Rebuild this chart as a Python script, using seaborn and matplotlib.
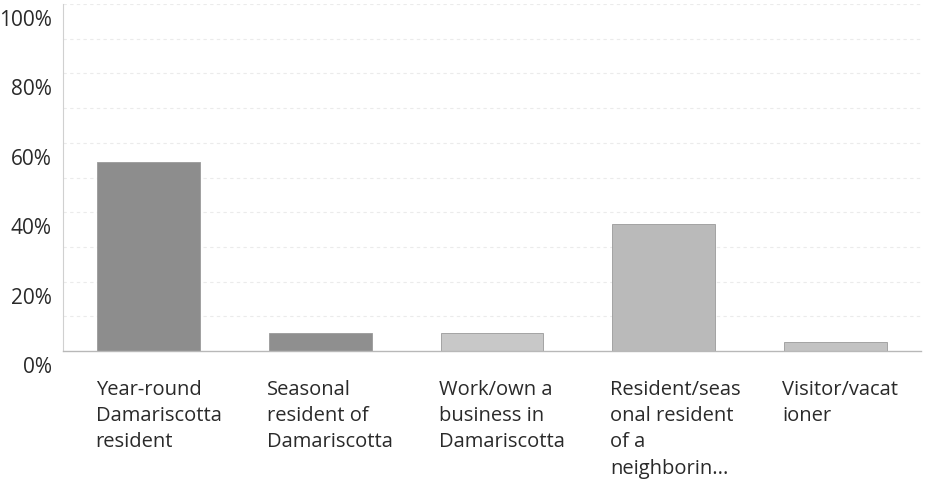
import matplotlib
matplotlib.use("Agg")
import matplotlib.pyplot as plt
import matplotlib.transforms as mtransforms
import seaborn as sns
import pandas as pd

# respuestas de la encuesta (% de encuestados)
categorias = ["Year-round\nDamariscotta\nresident",
              "Seasonal\nresident of\nDamariscotta",
              "Work/own a\nbusiness in\nDamariscotta",
              "Resident/seas\nonal resident\nof a\nneighborin...",
              "Visitor/vacat\nioner"]
porcentajes = [54.6, 5.1, 5.1, 36.7, 2.5]
colores = ["#8d8d8d", "#8f8f8f", "#c8c8c8", "#bababa", "#c3c3c3"]
y_ticks = [0, 20, 40, 60, 80, 100]

df = pd.DataFrame({"cat": categorias, "pct": porcentajes})

sns.set_theme(style="white")
plt.rcParams["font.family"] = ["Open Sans", "DejaVu Sans"]

fig = plt.figure(figsize=(9.28, 4.85), dpi=100)
ax = fig.add_axes([63/928, 1-352/485, (921-63)/928, (352-5)/485])

sns.barplot(data=df, x="cat", y="pct", hue="cat", palette=colores,
            width=0.6, legend=False, ax=ax, saturation=1,
            edgecolor="#9a9a9a", linewidth=0.6)

ax.set_ylim(0, 100)
ax.set_xlim(-0.5, 4.5)

# lineas de cuadricula punteadas cada 10%
for v in range(10, 101, 10):
    ax.axhline(v, color="#ebebeb", lw=0.8, ls=(0, (3, 3)), zorder=0)

ax.set_yticks(y_ticks)
ax.set_yticklabels([f"{v}%" for v in y_ticks], fontsize=15, color="#2a2a2a")
ax.tick_params(axis="y", length=0, pad=8)
offset = mtransforms.ScaledTranslation(0, -13/100, fig.dpi_scale_trans)
for lbl in ax.get_yticklabels():
    lbl.set_transform(lbl.get_transform() + offset)

# etiquetas del eje x alineadas a la izquierda de cada barra
ax.set_xticks(range(len(categorias)))
ax.set_xticklabels([])
ax.tick_params(axis="x", length=0)
for i, c in enumerate(categorias):
    ax.text(i - 0.31, -8, c, ha="left", va="top", fontsize=14.5,
            color="#2a2a2a", linespacing=1.42,
            transform=ax.transData, clip_on=False)

ax.set_xlabel("")
ax.set_ylabel("")
for s in ["top", "right"]:
    ax.spines[s].set_visible(False)
ax.spines["left"].set_color("#d0d0d0")
ax.spines["left"].set_linewidth(0.8)
ax.spines["bottom"].set_color("#b8b8b8")
ax.spines["bottom"].set_linewidth(1)

fig.savefig("out.png", dpi=100)
